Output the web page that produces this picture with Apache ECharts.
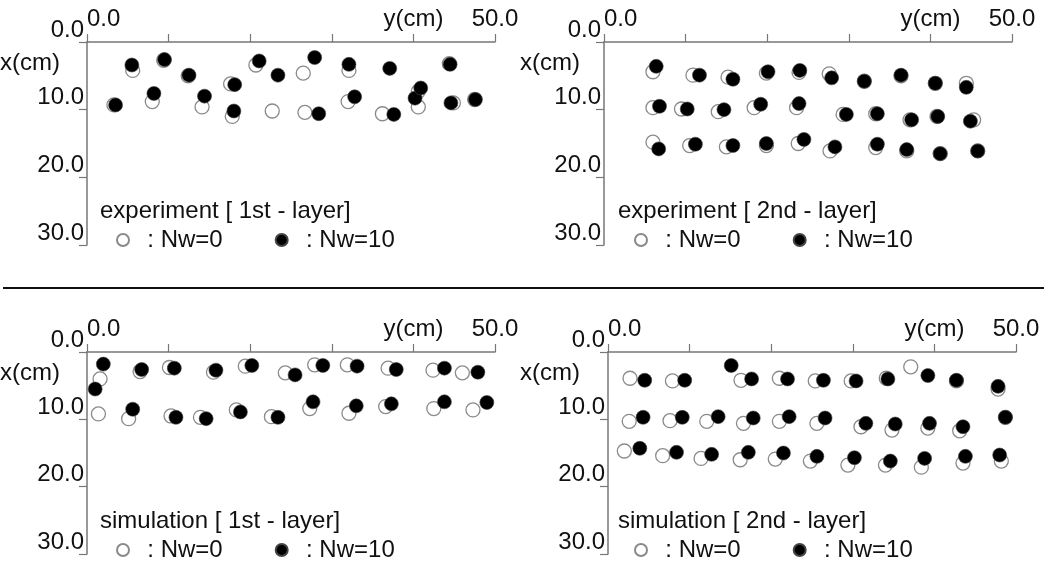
<!DOCTYPE html>
<html lang="en">
<head>
    <meta charset="UTF-8">
    <title>Bead positions</title>
    <script src="https://cdn.jsdelivr.net/npm/echarts@6/dist/echarts.min.js"></script>
    <style>
        * { padding: 0; margin: 0; }
        body { background: #fff; }
        #main { width: 1044px; height: 566px; }
    </style>
</head>
<body>
    <div id="main"></div>
    <script>
        // y(cm) = horizontal position, x(cm) = depth (axis drawn downward)
        // experiment, 1st layer
        var exp1OpenY = [3.3, 5.6, 8.0, 9.4, 12.4, 14.1, 17.6, 17.8, 20.7, 22.7, 26.5, 26.7, 32.1, 32.0, 36.2, 40.6, 40.6, 44.4, 44.9, 47.5];
        var exp1OpenX = [9.3, 4.2, 8.8, 2.7, 5.0, 9.6, 6.2, 11.0, 3.4, 10.2, 4.6, 10.4, 4.2, 8.8, 10.6, 9.6, 7.3, 3.2, 9.0, 8.5];
        var exp1FillY = [3.5, 5.5, 8.2, 9.5, 12.5, 14.4, 18.1, 18.0, 21.1, 23.4, 27.9, 28.4, 32.1, 32.8, 37.1, 37.6, 40.2, 40.9, 44.5, 44.6, 47.6];
        var exp1FillX = [9.3, 3.4, 7.6, 2.6, 4.9, 8.0, 6.3, 10.2, 2.8, 4.9, 2.3, 10.6, 3.3, 8.1, 3.9, 10.7, 8.3, 6.8, 3.3, 9.0, 8.5];

        // experiment, 2nd layer
        var exp2OpenY = [6.0, 10.9, 15.2, 19.9, 23.9, 27.6, 31.9, 36.4, 40.6, 44.4,
                         6.0, 9.5, 14.0, 18.4, 23.6, 29.3, 33.3, 37.5, 40.8, 45.3,
                         6.0, 10.5, 15.0, 19.9, 23.8, 27.7, 33.3, 37.1, 41.2, 45.8];
        var exp2OpenX = [4.4, 4.9, 5.2, 4.6, 4.5, 4.7, 5.8, 5.0, 6.1, 6.1,
                         9.7, 9.9, 10.3, 9.7, 9.7, 10.7, 10.6, 11.5, 11.0, 11.5,
                         14.8, 15.3, 15.5, 15.3, 15.0, 16.1, 15.6, 16.1, 16.5, 16.1];
        var exp2FillY = [6.4, 11.7, 15.8, 20.1, 24.0, 27.9, 31.9, 36.4, 40.6, 44.4,
                         6.8, 10.2, 14.7, 19.2, 23.9, 29.7, 33.5, 37.7, 40.9, 44.9,
                         6.7, 11.2, 15.8, 19.9, 24.5, 28.3, 33.5, 37.1, 41.2, 45.8];
        var exp2FillX = [3.6, 4.9, 5.5, 4.4, 4.2, 5.3, 5.8, 4.9, 6.1, 6.7,
                         9.5, 9.9, 10.0, 9.2, 9.1, 10.7, 10.6, 11.5, 11.0, 11.7,
                         15.8, 15.1, 15.3, 15.0, 14.4, 15.5, 15.1, 15.9, 16.5, 16.1];

        // simulation, 1st layer
        var sim1OpenY = [1.6, 6.5, 10.1, 15.5, 19.4, 24.3, 27.9, 31.9, 36.9, 42.4, 46.0,
                         1.4, 5.1, 10.3, 13.9, 18.3, 22.6, 27.3, 32.1, 36.6, 42.5, 47.3];
        var sim1OpenX = [4.0, 2.9, 2.3, 3.0, 2.1, 3.1, 1.9, 1.9, 2.4, 2.7, 3.1,
                         9.2, 9.9, 9.5, 9.7, 8.6, 9.6, 8.4, 9.1, 8.1, 8.4, 8.6];
        var sim1FillY = [2.0, 1.0, 6.7, 10.7, 15.8, 20.2, 25.5, 28.9, 33.1, 37.9, 43.8, 47.9,
                         5.6, 10.9, 14.6, 18.8, 23.4, 27.7, 33.0, 37.3, 43.8, 49.0];
        var sim1FillX = [1.8, 5.5, 2.6, 2.4, 2.7, 2.0, 3.4, 2.0, 2.1, 2.6, 2.4, 3.0,
                         8.5, 9.7, 9.9, 8.9, 9.7, 7.4, 8.0, 7.7, 7.4, 7.5];

        // simulation, 2nd layer
        var sim2OpenY = [2.7, 7.9, 16.3, 21.0, 25.4, 29.8, 34.1, 37.1, 42.7, 47.8,
                         2.6, 7.6, 12.1, 16.6, 21.0, 25.6, 31.0, 34.8, 39.2, 43.1, 48.7,
                         2.0, 6.7, 11.4, 16.2, 20.5, 24.8, 29.4, 34.0, 38.4, 43.5, 48.2];
        var sim2OpenX = [3.9, 4.3, 4.2, 3.9, 4.3, 4.3, 3.9, 2.2, 4.3, 5.5,
                         10.3, 10.2, 10.3, 10.6, 10.3, 10.6, 11.1, 11.6, 11.3, 11.7, 9.7,
                         14.7, 15.4, 15.8, 16.0, 15.9, 16.2, 16.8, 16.8, 17.1, 16.5, 16.2];
        var sim2FillY = [4.5, 9.4, 15.1, 17.6, 22.0, 26.4, 30.4, 34.3, 39.2, 42.7, 47.8,
                         4.3, 9.1, 13.5, 17.8, 22.2, 26.6, 31.6, 35.2, 39.4, 43.5, 48.7,
                         3.9, 8.4, 12.7, 17.2, 21.5, 25.6, 30.2, 34.6, 38.8, 43.8, 48.0];
        var sim2FillX = [4.2, 4.2, 2.0, 4.0, 4.0, 4.2, 4.3, 4.0, 3.5, 4.2, 5.1,
                         9.7, 9.7, 9.6, 9.8, 9.6, 9.8, 10.6, 10.7, 10.6, 11.1, 9.7,
                         14.3, 14.9, 15.2, 14.9, 15.0, 15.5, 15.7, 16.2, 15.8, 15.5, 15.3];

        var panelTitles = ['experiment [ 1st - layer]', 'experiment [ 2nd - layer]',
                           'simulation [ 1st - layer]', 'simulation [ 2nd - layer]'];
        var openName = ': Nw=0';
        var fillName = ': Nw=10';

        var panels = [
            [exp1OpenY, exp1OpenX, exp1FillY, exp1FillX],
            [exp2OpenY, exp2OpenX, exp2FillY, exp2FillX],
            [sim1OpenY, sim1OpenX, sim1FillY, sim1FillX],
            [sim2OpenY, sim2OpenX, sim2FillY, sim2FillX]
        ];

        // panel boxes
        var boxes = [
            { left: 87, top: 42, height: 203 },
            { left: 604, top: 42, height: 203 },
            { left: 87, top: 352, height: 202 },
            { left: 608, top: 352, height: 202 }
        ];

        var font = 'Liberation Sans, Arial, Helvetica, sans-serif';
        var axisGrey = '#777';
        var fs = 24;

        function pairs(ys, xs) {
            var out = [];
            for (var i = 0; i < ys.length; i++) out.push([ys[i], xs[i]]);
            return out;
        }

        var grid = [], xAxis = [], yAxis = [], series = [], title = [], legend = [], graphic = [];

        for (var p = 0; p < 4; p++) {
            var b = boxes[p];
            grid.push({ left: b.left, top: b.top, width: 408, height: b.height });

            xAxis.push({
                gridIndex: p, type: 'value', position: 'top',
                min: 0, max: 50, interval: 10,
                axisLine: { lineStyle: { color: axisGrey, width: 1.5 } },
                axisTick: { length: 8, lineStyle: { color: axisGrey, width: 1.2 } },
                splitLine: { show: false },
                axisLabel: {
                    margin: 11, fontSize: fs, color: '#111', fontFamily: font,
                    alignMinLabel: 'left',
                    formatter: function (v) {
                        if (v === 0) return '0.0';
                        if (v === 40) return 'y(cm)';
                        if (v === 50) return '50.0';
                        return '';
                    }
                }
            });

            yAxis.push({
                gridIndex: p, type: 'value', inverse: true,
                min: 0, max: 30, interval: 10,
                axisLine: { lineStyle: { color: axisGrey, width: 1.5 } },
                axisTick: { length: 8, lineStyle: { color: axisGrey, width: 1.2 } },
                splitLine: { show: false },
                axisLabel: {
                    margin: 3, fontSize: fs, color: '#111', fontFamily: font,
                    verticalAlign: 'bottom',
                    formatter: function (v) { return v.toFixed(1); }
                }
            });

            series.push({
                name: openName, type: 'scatter', xAxisIndex: p, yAxisIndex: p,
                symbolSize: 14,
                itemStyle: { color: '#fff', borderColor: '#8a8a8a', borderWidth: 1.3, opacity: 1 },
                data: pairs(panels[p][0], panels[p][1])
            });
            series.push({
                name: fillName, type: 'scatter', xAxisIndex: p, yAxisIndex: p,
                symbolSize: 14,
                itemStyle: { color: '#000', borderColor: '#444', borderWidth: 0.6, opacity: 1 },
                data: pairs(panels[p][2], panels[p][3])
            });

            var tx = p % 2 === 0 ? 100 : 618;
            var ty = b.top + 157;
            title.push({
                text: panelTitles[p], left: tx, top: ty, padding: 0,
                textStyle: { fontSize: fs, fontWeight: 'normal', color: '#111', fontFamily: font }
            });

            legend.push({
                data: [openName, fillName],
                left: tx + 16, top: ty + 29, padding: 0,
                itemWidth: 12, itemHeight: 12, itemGap: 52,
                icon: 'circle',
                formatter: function (n) { return '  ' + n; },
                textStyle: { fontSize: fs, color: '#111', fontFamily: font }
            });

            graphic.push({
                type: 'text', left: p % 2 === 0 ? 0 : 520, top: b.top + 9,
                style: { text: 'x(cm)', fontSize: fs, fill: '#111', fontFamily: font }
            });
        }

        // divider between experiment and simulation rows
        graphic.push({
            type: 'line', shape: { x1: 3, y1: 288, x2: 1044, y2: 288 },
            style: { stroke: '#111', lineWidth: 2 }
        });

        var chart = echarts.init(document.getElementById('main'));
        chart.setOption({
            animation: false,
            backgroundColor: '#fff',
            grid: grid,
            xAxis: xAxis,
            yAxis: yAxis,
            title: title,
            legend: legend,
            graphic: graphic,
            series: series
        });
    </script>
</body>
</html>
